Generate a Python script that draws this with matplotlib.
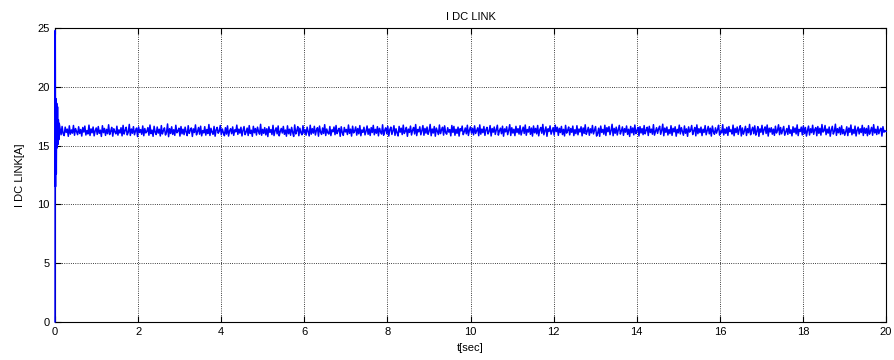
import numpy as np
import matplotlib.pyplot as plt

plt.rcParams['font.family'] = ['Liberation Sans', 'DejaVu Sans']

# start-up transient (t in s, current in A)
t_start = [0.0, 0.004, 0.012, 0.02, 0.03, 0.04, 0.05, 0.06, 0.07, 0.08, 0.09, 0.1]
i_start = [0.0, 24.8, 11.5, 19.0, 12.6, 18.6, 14.8, 18.3, 15.1, 17.2, 15.5, 16.9]

# steady-state ripple in hundredths of an ampere
i_ripple_cA = [
    1648, 1592, 1663, 1601, 1585, 1657, 1612, 1640, 1579, 1668, 1597, 1633, 1606, 1671, 1588, 1645, 1620, 1593, 1660, 1603,
    1637, 1581, 1654, 1615, 1666, 1590, 1628, 1599, 1674, 1586, 1642, 1609, 1658, 1583, 1625, 1650, 1595, 1662, 1604, 1631,
    1578, 1669, 1610, 1646, 1587, 1638, 1601, 1677, 1594, 1622, 1655, 1580, 1643, 1617, 1600, 1665, 1589, 1634, 1607, 1652,
    1583, 1672, 1598, 1629, 1656, 1591, 1613, 1680, 1586, 1641, 1605, 1661, 1592, 1626, 1649, 1577, 1659, 1611, 1636, 1596,
    1667, 1584, 1645, 1608, 1621, 1653, 1588, 1675, 1602, 1632, 1579, 1664, 1614, 1594, 1658, 1606, 1639, 1582, 1670, 1599,
    1627, 1651, 1590, 1612, 1684, 1576, 1644, 1603, 1660, 1595, 1635, 1587, 1673, 1609, 1624, 1648, 1581, 1662, 1600, 1639,
    1593, 1657, 1616, 1585, 1669, 1604, 1630, 1650, 1578, 1642, 1611, 1676, 1591, 1619, 1654, 1597, 1665, 1583, 1628, 1608,
    1661, 1589, 1637, 1602, 1679, 1586, 1647, 1614, 1596, 1663, 1580, 1633, 1655, 1605, 1622, 1671, 1592, 1641, 1610, 1584,
    1652, 1598, 1668, 1581, 1625, 1644, 1601, 1659, 1587, 1634, 1617, 1674, 1595, 1640, 1606, 1656, 1582, 1629, 1662, 1593,
    1615, 1649, 1586, 1670, 1603, 1631, 1579, 1664, 1609, 1645, 1590, 1657, 1620, 1597, 1681, 1588, 1638, 1604, 1653, 1591,
    1643, 1577, 1660, 1612, 1636, 1594, 1672, 1585, 1626, 1651, 1600, 1667, 1583, 1619, 1646, 1607, 1663, 1596, 1632, 1580,
    1668, 1601, 1639, 1588, 1655, 1613, 1578, 1676, 1599, 1627, 1661, 1584, 1648, 1610, 1592, 1669, 1605, 1635, 1589, 1657,
    1621, 1582, 1673, 1597, 1644, 1606, 1664, 1590, 1630, 1652, 1580, 1666, 1614, 1595, 1650, 1603, 1678, 1586, 1641, 1609,
    1598, 1662, 1585, 1634, 1618, 1658, 1593, 1671, 1602, 1628, 1647, 1579, 1660, 1611, 1587, 1654, 1616, 1637, 1594, 1675,
    1604, 1640, 1581, 1665, 1608, 1624, 1659, 1589, 1645, 1600, 1670, 1584, 1633, 1613, 1656, 1591, 1623, 1667, 1596, 1642,
    1586, 1653, 1611, 1672, 1592, 1638, 1605, 1661, 1583, 1647, 1619, 1598, 1677, 1588, 1629, 1651, 1601, 1664, 1581, 1635,
    1657, 1595, 1626, 1669, 1587, 1643, 1609, 1582, 1663, 1614, 1648, 1594, 1674, 1603, 1622, 1655, 1579, 1640, 1612, 1666,
    1590, 1631, 1654, 1599, 1679, 1585, 1637, 1617, 1660, 1592, 1627, 1670, 1588, 1646, 1606, 1658, 1596, 1623, 1680, 1584,
    1641, 1607, 1662, 1580, 1649, 1620, 1594, 1675, 1602, 1633, 1656, 1589, 1668, 1610, 1597, 1652, 1615, 1636, 1583, 1671,
    1612, 1663, 1588, 1639, 1604, 1657, 1581, 1644, 1625, 1666, 1593, 1618, 1650, 1600, 1673, 1586, 1632, 1659, 1606, 1647,
    1591, 1668, 1603, 1628, 1651, 1584, 1676, 1597, 1640, 1610, 1662, 1587, 1634, 1655, 1599, 1621, 1670, 1582, 1645, 1614,
    1658, 1595, 1636, 1673, 1589, 1626, 1648, 1601, 1665, 1580, 1642, 1617, 1660, 1593, 1630, 1678, 1586, 1652, 1607, 1639,
    1585, 1664, 1611, 1644, 1598, 1669, 1590, 1623, 1657, 1603, 1675, 1588, 1637, 1615, 1661, 1596, 1649, 1581, 1667, 1609,
    1646, 1600, 1671, 1583, 1633, 1654, 1605, 1680, 1592, 1627, 1659, 1579, 1643, 1620, 1668, 1597, 1624, 1653, 1589, 1674,
    1619, 1656, 1587, 1647, 1611, 1663, 1594, 1638, 1582, 1672, 1606, 1629, 1658, 1591, 1645, 1613, 1666, 1585, 1635, 1602,
    1669, 1592, 1641, 1616, 1660, 1583, 1650, 1604, 1677, 1596, 1622, 1655, 1588, 1643, 1608, 1671, 1599, 1631, 1662, 1581,
    1603, 1648, 1579, 1666, 1612, 1637, 1597, 1673, 1586, 1653, 1618, 1661, 1593, 1628, 1681, 1584, 1646, 1605, 1657, 1590,
    1634, 1672, 1598, 1625, 1659, 1587, 1644, 1614, 1667, 1595, 1639, 1578, 1663, 1609, 1650, 1591, 1675, 1602, 1627, 1655,
    1582, 1661, 1607, 1645, 1593, 1670, 1600, 1632, 1656, 1586, 1664, 1611, 1640, 1597, 1678, 1589, 1621, 1652, 1604, 1643,
    1665, 1596, 1629, 1682, 1584, 1649, 1613, 1658, 1590, 1636, 1602, 1669, 1587, 1647, 1617, 1660, 1580, 1638, 1608, 1674,
    1599, 1653, 1621, 1588, 1667, 1605, 1642, 1579, 1659, 1615, 1632, 1671, 1594, 1626, 1654, 1583, 1676, 1601, 1644, 1610,
    1657, 1585, 1639, 1612, 1670, 1592, 1627, 1663, 1600, 1648, 1581, 1666, 1618, 1596, 1651, 1606, 1635, 1673, 1589, 1624,
    1608, 1678, 1590, 1641, 1604, 1655, 1587, 1662, 1619, 1633, 1598, 1674, 1584, 1646, 1611, 1658, 1595, 1637, 1669, 1582,
    1650, 1597, 1625, 1664, 1586, 1644, 1609, 1680, 1592, 1630, 1656, 1601, 1668, 1589, 1623, 1661, 1579, 1642, 1614, 1672,
    1594, 1636, 1659, 1603, 1675, 1581, 1648, 1616, 1652, 1597, 1640, 1587, 1665, 1607, 1629, 1677, 1593, 1654, 1600, 1631,
    1663, 1588, 1617, 1645, 1595, 1671, 1605, 1634, 1583, 1660, 1612, 1649, 1599, 1676, 1585, 1638, 1620, 1657, 1591, 1667,
    1602, 1654, 1581, 1628, 1666, 1590, 1643, 1610, 1673, 1596, 1635, 1653, 1584, 1662, 1604, 1647, 1589, 1679, 1615, 1626,
    1671, 1593, 1640, 1606, 1658, 1580, 1632, 1664, 1598, 1621, 1682, 1587, 1644, 1609, 1655, 1594, 1668, 1601, 1636, 1588,
    1617, 1660, 1585, 1649, 1613, 1675, 1592, 1637, 1603, 1666, 1582, 1630, 1657, 1599, 1643, 1611, 1672, 1586, 1651, 1605,
    1646, 1584, 1669, 1597, 1624, 1655, 1588, 1678, 1608, 1639, 1594, 1663, 1601, 1633, 1648, 1581, 1661, 1614, 1627, 1620,
]

t_end = 20.0
x_ticks = [0, 2, 4, 6, 8, 10, 12, 14, 16, 18, 20]
y_ticks = [0, 5, 10, 15, 20, 25]

i_ripple = np.array(i_ripple_cA) / 100.0
t_ripple = np.linspace(t_start[-1] + 0.02, t_end, len(i_ripple))
t = np.concatenate([t_start, t_ripple])
i_dc = np.concatenate([i_start, i_ripple])

fig = plt.figure(figsize=(8.95, 3.6), dpi=100)
ax = fig.add_axes([0.0615, 0.106, 0.9285, 0.816])

ax.plot(t, i_dc, color=(0, 0, 1), linewidth=1.1, zorder=3, clip_on=False)

ax.set_xlim(0, 20)
ax.set_ylim(0, 25)
ax.set_xticks(x_ticks)
ax.set_yticks(y_ticks)
ax.grid(True, color='black', linestyle=':', linewidth=0.6)
ax.tick_params(direction='in', top=True, right=True, length=4, labelsize=8, pad=4)
for s in ax.spines.values():
    s.set_linewidth(0.8)

ax.set_title('I DC LINK', fontsize=8, pad=6)
ax.set_xlabel('t[sec]', fontsize=8, labelpad=4)
ax.set_ylabel('I DC LINK[A]', fontsize=8, labelpad=9)

plt.savefig('out.png', dpi=100)
